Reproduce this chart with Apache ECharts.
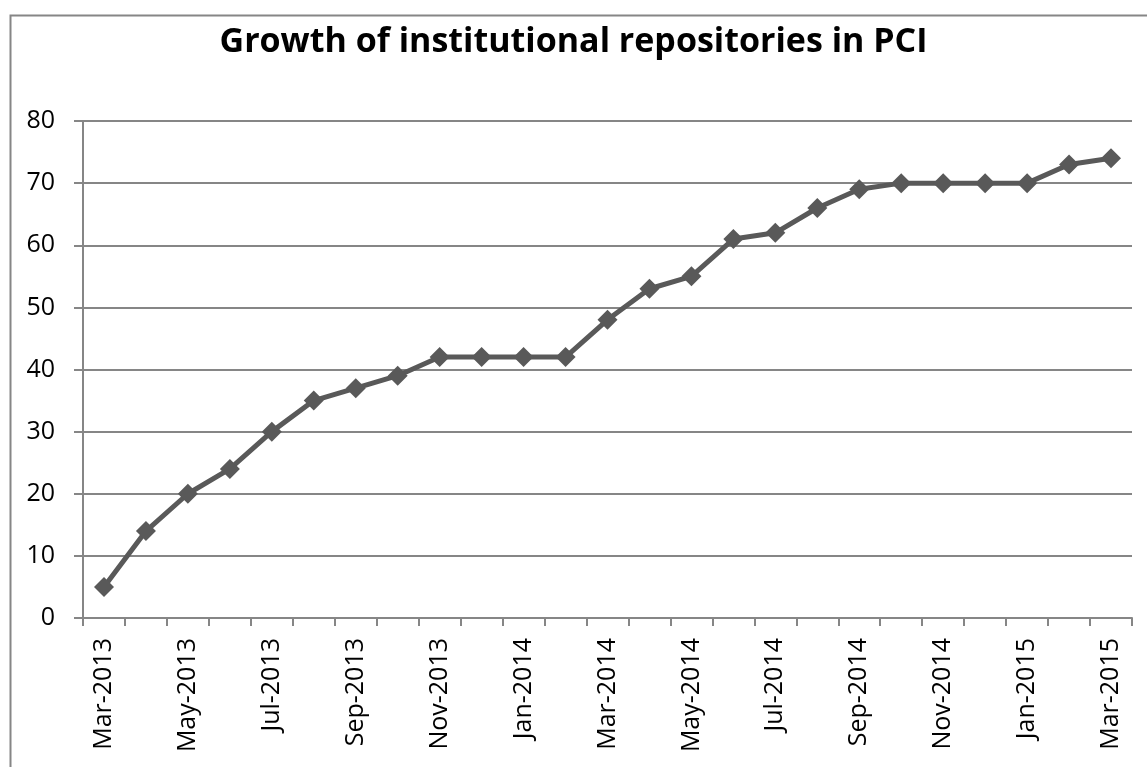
<!DOCTYPE html>
<html><head><meta charset="utf-8">
<script src="https://cdn.jsdelivr.net/npm/echarts@6/dist/echarts.min.js"></script>
<style>html,body{margin:0;padding:0;background:#fff}#c{width:1147px;height:767px}</style>
</head><body><div id="c"></div>
<script>
const categories = ['Mar-2013','Apr-2013','May-2013','Jun-2013','Jul-2013','Aug-2013','Sep-2013','Oct-2013','Nov-2013','Dec-2013','Jan-2014','Feb-2014','Mar-2014','Apr-2014','May-2014','Jun-2014','Jul-2014','Aug-2014','Sep-2014','Oct-2014','Nov-2014','Dec-2014','Jan-2015','Feb-2015','Mar-2015'];
const repositories = [5,14,20,24,30,35,37,39,42,42,42,42,48,53,55,61,62,66,69,70,70,70,70,73,74];
const yTicks = {min:0, max:80, interval:10};
const titleText = 'Growth of institutional repositories in PCI';

const chart = echarts.init(document.getElementById('c'), null, {renderer:'canvas'});
chart.setOption({
  animation:false,
  backgroundColor:'#ffffff',
  graphic:[{type:'rect', left:8, top:13, shape:{width:1160, height:780}, style:{fill:'none', stroke:'#868686', lineWidth:2}, z:-1}],
  title:{text:titleText, left:'center', top:20, textStyle:{fontFamily:'Open Sans', fontWeight:'bold', fontSize:34, color:'#000'}},
  grid:{left:83, right:15, top:121, bottom:149, containLabel:false},
  xAxis:{type:'category', data:categories, boundaryGap:true,
    axisLine:{lineStyle:{color:'#868686', width:2}},
    axisTick:{show:true, length:8, interval:0, lineStyle:{color:'#868686', width:2}},
    axisLabel:{interval:1, rotate:90, margin:20, fontFamily:'Open Sans', fontSize:25, color:'#000'}},
  yAxis:{type:'value', min:yTicks.min, max:yTicks.max, interval:yTicks.interval,
    axisLine:{show:true, lineStyle:{color:'#868686', width:2}},
    axisTick:{show:true, length:9, lineStyle:{color:'#868686', width:2}},
    axisLabel:{margin:28, fontFamily:'Open Sans', fontSize:25, color:'#000'},
    splitLine:{lineStyle:{color:'#868686', width:2}}},
  series:[{type:'line', data:repositories, symbol:'diamond', symbolSize:20,
    lineStyle:{color:'#595959', width:5}, itemStyle:{color:'#595959'}}]
});
</script></body></html>
